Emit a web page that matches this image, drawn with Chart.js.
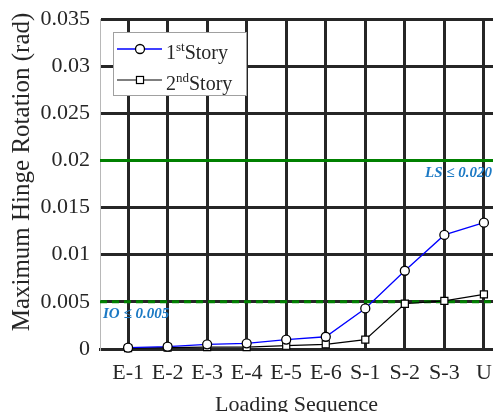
<!DOCTYPE html>
<html>
<head>
<meta charset="utf-8">
<script src="https://cdn.jsdelivr.net/npm/chart.js@4.4.1/dist/chart.umd.min.js"></script>
<style>
  html, body { margin: 0; padding: 0; background: #ffffff; overflow: hidden; }
  canvas { display: block; }
</style>
</head>
<body>
<canvas id="chart" width="493" height="412"></canvas>
<script>
// Loading steps along the horizontal axis
const categories = ['E-1', 'E-2', 'E-3', 'E-4', 'E-5', 'E-6', 'S-1', 'S-2', 'S-3', 'U'];

// Maximum hinge rotation (rad) for each storey
const story1 = [0.00014, 0.00025, 0.0005, 0.0006, 0.001, 0.0013, 0.0043, 0.0083, 0.0121, 0.0134];
const story2 = [0.0001, 0.00015, 0.0002, 0.0002, 0.00035, 0.0005, 0.001, 0.0048, 0.0051, 0.0058];

// Vertical axis ticks
const yTicks = [0, 0.005, 0.01, 0.015, 0.02, 0.025, 0.03, 0.035];
const yTickLabels = ['0', '0.005', '0.01', '0.015', '0.02', '0.025', '0.03', '0.035'];

// Performance limits: Life Safety and Immediate Occupancy
const limitValues = [0.020, 0.005];
const limitLabels = ['LS \u2264 0.020', 'IO \u2264 0.005'];

// Legend entries: number, ordinal suffix, word
const seriesNames = [['1', 'st', 'Story'], ['2', 'nd', 'Story']];

const serif = "'Liberation Serif', 'Times New Roman', serif";
const ink = '#262626';

const decorations = {
  id: 'decorations',
  beforeDatasetsDraw(chart) {
    const { ctx, chartArea: a, scales: { y } } = chart;
    ctx.save();
    ctx.strokeStyle = '#008000';
    ctx.lineWidth = 3;
    limitValues.forEach((v, i) => {
      const py = y.getPixelForValue(v);
      ctx.setLineDash(i === 0 ? [] : [7, 5]);
      ctx.beginPath();
      ctx.moveTo(a.left, py);
      ctx.lineTo(a.right, py);
      ctx.stroke();
    });
    ctx.restore();
  },
  afterDraw(chart) {
    const { ctx, chartArea: a, scales: { y } } = chart;
    ctx.save();

    // limit labels
    ctx.font = 'italic bold 15px ' + serif;
    ctx.fillStyle = '#1b79c4';
    ctx.textBaseline = 'alphabetic';
    ctx.textAlign = 'right';
    ctx.fillText(limitLabels[0], a.right - 1, y.getPixelForValue(limitValues[0]) + 17);
    ctx.textAlign = 'left';
    ctx.fillText(limitLabels[1], a.left + 3, y.getPixelForValue(limitValues[1]) + 16);

    // legend box
    const bx = a.left + 13, by = a.top + 13, bw = 134, bh = 64;
    ctx.fillStyle = '#ffffff';
    ctx.fillRect(bx, by, bw, bh);
    ctx.strokeStyle = '#a0a0a0';
    ctx.lineWidth = 1;
    ctx.strokeRect(bx + 0.5, by + 0.5, bw - 1, bh - 1);

    const rows = [by + 17, by + 48];
    chart.data.datasets.forEach((ds, i) => {
      const ly = rows[i];
      ctx.strokeStyle = ds.borderColor;
      ctx.lineWidth = ds.borderWidth;
      ctx.beginPath();
      ctx.moveTo(bx + 4, ly);
      ctx.lineTo(bx + 49, ly);
      ctx.stroke();
      ctx.fillStyle = '#ffffff';
      ctx.strokeStyle = '#000000';
      ctx.lineWidth = ds.pointBorderWidth;
      const mx = bx + 27;
      if (ds.pointStyle === 'circle') {
        ctx.beginPath();
        ctx.arc(mx, ly, ds.pointRadius, 0, Math.PI * 2);
        ctx.fill();
        ctx.stroke();
      } else {
        const s = ds.pointRadius * Math.SQRT1_2;
        ctx.fillRect(mx - s, ly - s, 2 * s, 2 * s);
        ctx.strokeRect(mx - s, ly - s, 2 * s, 2 * s);
      }
      const [num, sup, word] = seriesNames[i];
      const base = ly + 10;
      let tx = bx + 53;
      ctx.fillStyle = ink;
      ctx.textAlign = 'left';
      ctx.font = '20px ' + serif;
      ctx.fillText(num, tx, base);
      tx += ctx.measureText(num).width;
      ctx.font = '13px ' + serif;
      ctx.fillText(sup, tx, base - 8);
      tx += ctx.measureText(sup).width;
      ctx.font = '20px ' + serif;
      ctx.fillText(word, tx, base);
    });

    // vertical axis title
    ctx.translate(22, 172);
    ctx.rotate(-Math.PI / 2);
    ctx.font = '25px ' + serif;
    ctx.fillStyle = ink;
    ctx.textAlign = 'center';
    ctx.textBaseline = 'middle';
    ctx.fillText('Maximum Hinge Rotation (rad)', 0, 0);
    ctx.restore();
  }
};

new Chart(document.getElementById('chart'), {
  type: 'line',
  data: {
    datasets: [
      {
        label: '1st Story',
        data: story1.map((v, i) => ({ x: i + 1, y: v })),
        borderColor: '#0000ff',
        borderWidth: 1.3,
        pointStyle: 'circle',
        pointRadius: 4.5,
        pointBackgroundColor: '#ffffff',
        pointBorderColor: '#000000',
        pointBorderWidth: 1.3,
        tension: 0,
        clip: false
      },
      {
        label: '2nd Story',
        data: story2.map((v, i) => ({ x: i + 1, y: v })),
        borderColor: '#000000',
        borderWidth: 1.2,
        pointStyle: 'rect',
        pointRadius: 5,
        pointBackgroundColor: '#ffffff',
        pointBorderColor: '#000000',
        pointBorderWidth: 1.2,
        tension: 0,
        clip: false
      }
    ]
  },
  options: {
    responsive: false,
    animation: false,
    layout: { autoPadding: false, padding: { top: 19, right: 0, left: 0, bottom: 0 } },
    plugins: { legend: { display: false }, tooltip: { enabled: false } },
    scales: {
      x: {
        type: 'linear',
        min: 0.29,
        max: 10.23,
        afterBuildTicks: (s) => { s.ticks = categories.map((c, i) => ({ value: i + 1 })); },
        afterFit: (s) => { s.height = 63; s.paddingLeft = 0; s.paddingRight = 0; },
        ticks: {
          callback: (v) => categories[v - 1],
          font: { family: serif, size: 22 },
          color: ink,
          padding: 11,
          maxRotation: 0,
          autoSkip: false
        },
        grid: { color: ink, lineWidth: 3, drawTicks: false },
        border: { color: ink, width: 3 },
        title: {
          display: true,
          text: 'Loading Sequence',
          font: { family: serif, size: 22 },
          color: ink,
          padding: { top: 0, bottom: -6 }
        }
      },
      y: {
        min: 0,
        max: 0.035,
        afterBuildTicks: (s) => { s.ticks = yTicks.map((v) => ({ value: v })); },
        afterFit: (s) => { s.width = 100; s.paddingTop = 0; s.paddingBottom = 0; },
        ticks: {
          callback: (v, i) => yTickLabels[i],
          font: { family: serif, size: 22 },
          color: ink,
          padding: 10
        },
        grid: { color: ink, lineWidth: 3, drawTicks: false },
        border: { color: '#b8b8b8', width: 1 }
      }
    }
  },
  plugins: [decorations]
});
</script>
</body>
</html>
